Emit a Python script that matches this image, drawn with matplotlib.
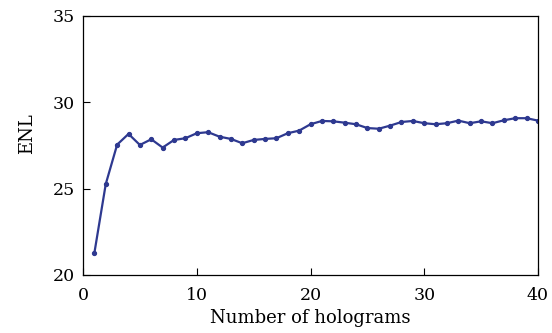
import matplotlib
matplotlib.use("Agg")
import matplotlib.pyplot as plt

holograms = list(range(1, 41))
enl = [21.28, 25.27, 27.55, 28.17, 27.53, 27.86, 27.38, 27.82, 27.92, 28.21,
       28.27, 28.01, 27.88, 27.63, 27.82, 27.88, 27.92, 28.21, 28.36, 28.73,
       28.92, 28.90, 28.82, 28.73, 28.51, 28.47, 28.65, 28.86, 28.92, 28.79,
       28.73, 28.79, 28.94, 28.79, 28.90, 28.79, 28.96, 29.08, 29.08, 28.94]
xticks = [0, 10, 20, 30, 40]
yticks = [20, 25, 30, 35]

plt.rcParams["font.family"] = ["DejaVu Serif"]

fig = plt.figure(figsize=(5.52, 3.33), dpi=100)
ax = fig.add_axes([0.1504, 0.1742, 0.8242, 0.7778])
ax.plot(holograms, enl, color="#2e3990", lw=1.6, marker="o", ms=2.8)
ax.set_xlim(0, 40)
ax.set_ylim(20, 35)
ax.set_xticks(xticks)
ax.set_yticks(yticks)
ax.tick_params(direction="in", labelsize=12.5, length=5, width=0.8)
ax.tick_params(axis="x", pad=8.5)
ax.tick_params(axis="y", pad=6)
for s in ax.spines.values():
    s.set_linewidth(0.9)
ax.set_xlabel("Number of holograms", fontsize=13, labelpad=4)
ax.set_ylabel("ENL", fontsize=13)
ax.yaxis.set_label_coords(-0.104, 0.544)
fig.savefig("out.png", dpi=100)
